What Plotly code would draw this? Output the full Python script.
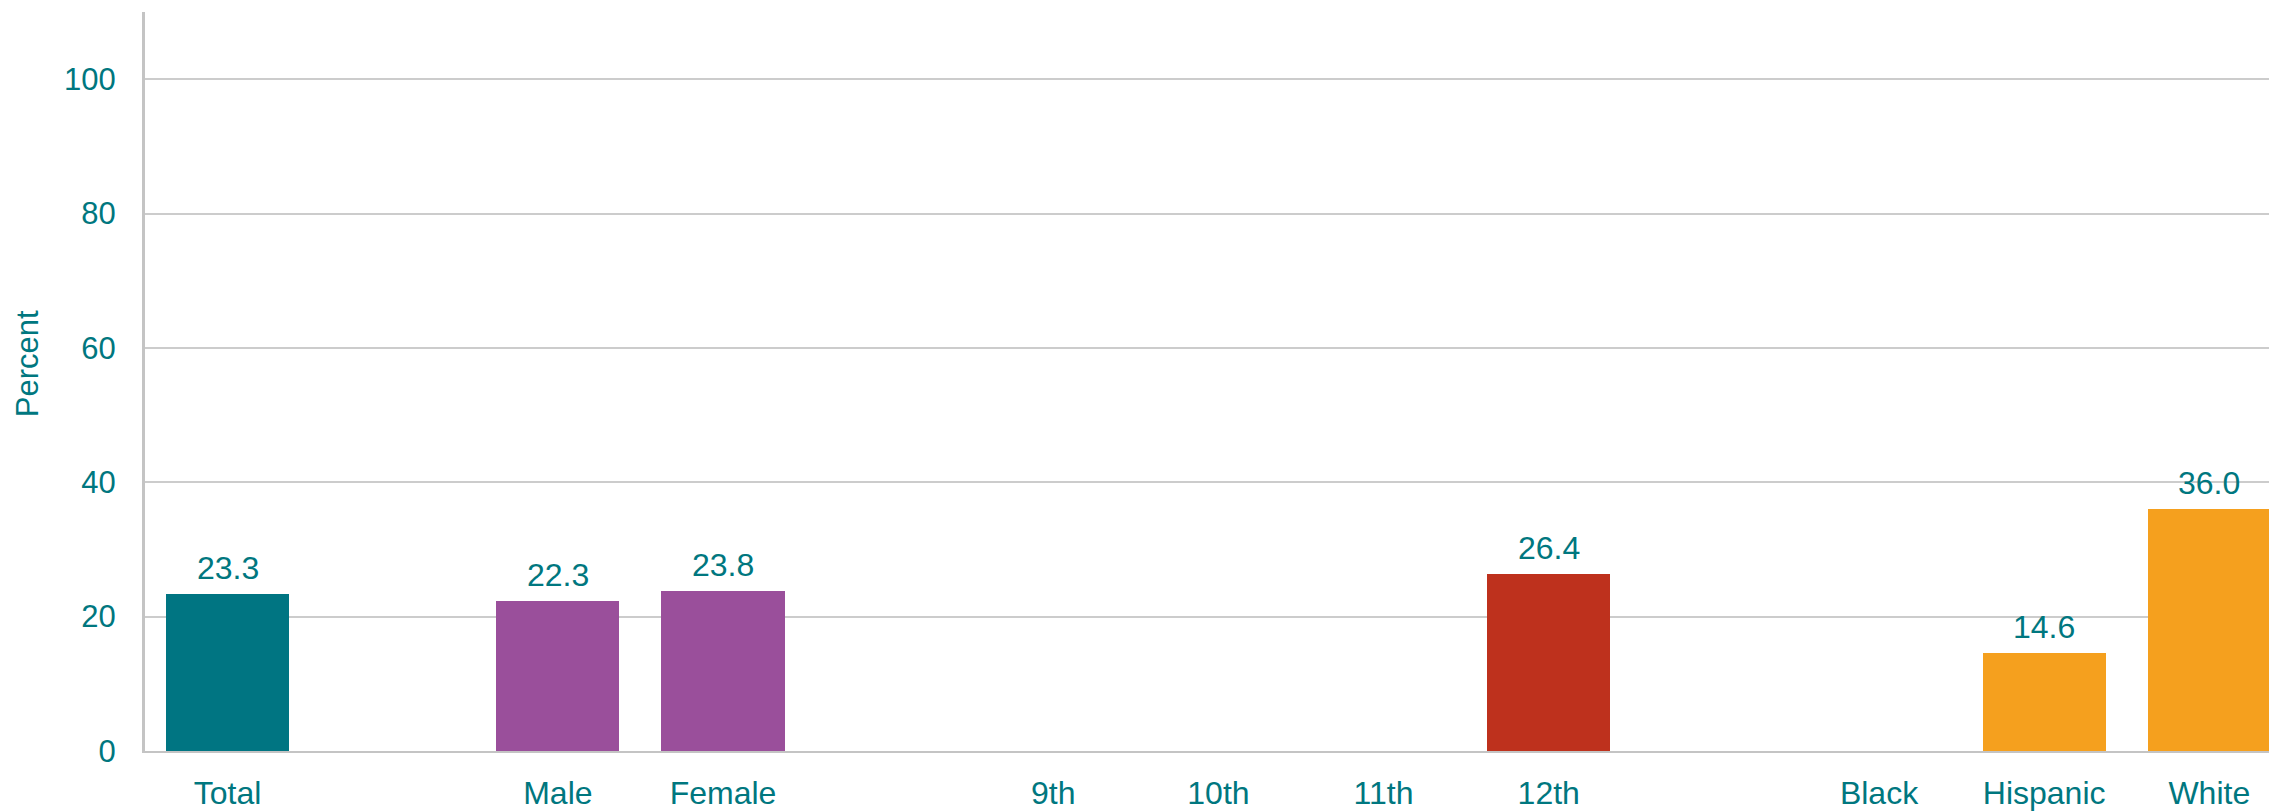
import plotly.graph_objects as go

# Data
group_total = ["Total"]
group_sex = ["Male", "Female"]
group_grade = ["9th", "10th", "11th", "12th"]
group_race = ["Black", "Hispanic", "White"]

values_total = [23.3]
values_sex = [22.3, 23.8]
values_grade = [None, None, None, 26.4]
values_race = [None, 14.6, 36.0]

y_ticks = [0, 20, 40, 60, 80, 100]

TEXT = "#00777F"
colors = ["#007582", "#9A4F9B", "#BE311D", "#F5A01E"]

groups = [
    (group_total, values_total, colors[0]),
    (group_sex, values_sex, colors[1]),
    (group_grade, values_grade, colors[2]),
    (group_race, values_race, colors[3]),
]

fig = go.Figure()
tickvals, ticktext = [], []
pos = 0
annotations = []
for labels, vals, col in groups:
    xs = list(range(pos, pos + len(labels)))
    fig.add_trace(go.Bar(x=xs, y=vals, marker=dict(color=col, line=dict(width=0)),
                         width=0.745, showlegend=False, hoverinfo="skip"))
    for x, lab, v in zip(xs, labels, vals):
        tickvals.append(x)
        ticktext.append(lab)
        if v is not None:
            annotations.append(dict(x=x, y=v, text=f"{v:.1f}", showarrow=False,
                                    xref="x", yref="y", yanchor="bottom", yshift=6,
                                    font=dict(size=32, color=TEXT, family="Liberation Sans")))
    pos += len(labels) + 1

annotations.append(dict(text="Percent", textangle=-90, showarrow=False,
                        xref="paper", yref="paper", x=-0.0553, y=0.5236,
                        xanchor="center", yanchor="middle",
                        font=dict(size=31, color=TEXT, family="Liberation Sans")))

fig.update_layout(
    width=2269, height=803,
    margin=dict(l=137, r=0, t=4, b=56),
    paper_bgcolor="white", plot_bgcolor="white",
    font=dict(family="Liberation Sans", size=31, color=TEXT),
    annotations=annotations,
    bargap=0,
)
fig.update_xaxes(range=[-0.5, 12.41], tickmode="array", tickvals=tickvals, ticktext=ticktext,
                 showgrid=False, showline=True, linecolor="#C4C4C4", linewidth=2,
                 ticks="", ticklabelstandoff=13, tickfont=dict(size=32, color=TEXT),
                 zeroline=False)
fig.update_yaxes(range=[0, 110], tickmode="array", tickvals=y_ticks,
                 showgrid=True, gridcolor="#CCCCCC", gridwidth=2,
                 showline=True, linecolor="#C4C4C4", linewidth=3,
                 zeroline=False, ticks="", ticklabelstandoff=20,
                 tickfont=dict(size=31, color=TEXT))

fig.write_html("out.html")
